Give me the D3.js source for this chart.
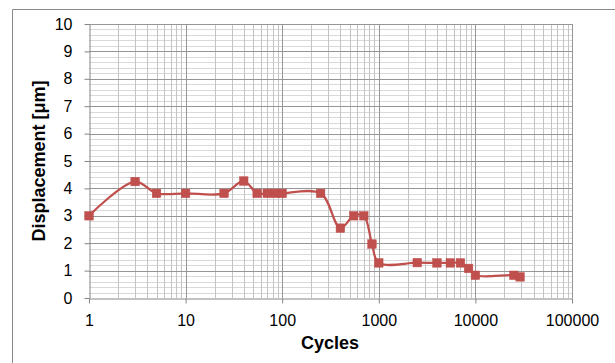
<!DOCTYPE html>
<html><head><meta charset="utf-8">
<script src="https://cdn.jsdelivr.net/npm/d3@7"></script>
<style>body{margin:0;background:#fff;} svg{display:block;font-family:"Liberation Sans",Arial,sans-serif;}</style>
</head><body>
<svg id="c" width="615" height="363"></svg>
<script>
const cycles = [1, 3, 5, 10, 25, 40, 55, 70, 85, 100, 250, 400, 550, 700, 850, 1000, 2500, 4000, 5500, 7000, 8500, 10000, 25000, 29000];
const displacement = [3.0, 4.25, 3.82, 3.82, 3.82, 4.27, 3.82, 3.82, 3.82, 3.82, 3.82, 2.55, 3.0, 3.0, 1.97, 1.28, 1.29, 1.28, 1.28, 1.28, 1.08, 0.83, 0.83, 0.77];
const xTickLabels = ["1", "10", "100", "1000", "10000", "100000"];
const yTickLabels = ["0","1","2","3","4","5","6","7","8","9","10"];
const xTitle = "Cycles";
const yTitle = "Displacement [μm]";

const svg = d3.select("#c");
const L = 89, R = 572, T = 24, B = 298;
const x = d3.scaleLog().domain([1, 100000]).range([L, R]);
const y = d3.scaleLinear().domain([0, 10]).range([B, T]);

// outer border
svg.append("path").attr("d", "M12.5,370 V9.5 H620").attr("fill","none").attr("stroke","#898989").attr("stroke-width",1);

const g = svg.append("g");
// minor horizontal grid
const yMinor = d3.range(0, 10.001, 0.2).filter(v => Math.abs(v - Math.round(v)) > 1e-6);
g.selectAll(".hm").data(yMinor).join("line")
  .attr("x1", L).attr("x2", R).attr("y1", d => Math.round(y(d)) + 0.5).attr("y2", d => Math.round(y(d)) + 0.5)
  .attr("stroke", "#d9d9d9").attr("stroke-width", 1);
// minor vertical grid
const xMinor = [];
for (let e = 0; e < 5; e++) for (let m = 2; m <= 9; m++) xMinor.push(m * Math.pow(10, e));
g.selectAll(".vm").data(xMinor).join("line")
  .attr("y1", T).attr("y2", B).attr("x1", d => Math.round(x(d)) + 0.5).attr("x2", d => Math.round(x(d)) + 0.5)
  .attr("stroke", "#c4c4c4").attr("stroke-width", 1);
// major horizontal grid
g.selectAll(".hM").data(d3.range(1, 11)).join("line")
  .attr("x1", L).attr("x2", R).attr("y1", d => Math.round(y(d)) + 0.5).attr("y2", d => Math.round(y(d)) + 0.5)
  .attr("stroke", "#969696").attr("stroke-width", 1);
// major vertical grid
const xMajor = [1, 10, 100, 1000, 10000, 100000];
g.selectAll(".vM").data(xMajor.slice(1)).join("line")
  .attr("y1", T).attr("y2", B).attr("x1", d => Math.round(x(d)) + 0.5).attr("x2", d => Math.round(x(d)) + 0.5)
  .attr("stroke", "#969696").attr("stroke-width", 1);

// axes
const xAxis = d3.axisBottom(x).tickValues(xMajor).tickFormat((d, i) => xTickLabels[i]).tickSize(5).tickSizeOuter(0);
const xa = svg.append("g").attr("transform", `translate(0,${B + 0.5})`).call(xAxis);
xa.select(".domain").attr("stroke", "#868686");
xa.selectAll(".tick line").attr("stroke", "#868686");
xa.selectAll(".tick text").attr("font-size", "16px").attr("fill", "#000").attr("dy", 0).attr("y", 27.5);

const yAxis = d3.axisLeft(y).tickValues(d3.range(0, 11)).tickFormat((d, i) => yTickLabels[i]).tickSize(5).tickSizeOuter(0);
const ya = svg.append("g").attr("transform", `translate(${L + 0.5},0)`).call(yAxis);
ya.select(".domain").attr("stroke", "#868686");
ya.selectAll(".tick line").attr("stroke", "#868686");
ya.selectAll(".tick text").attr("font-size", "16px").attr("fill", "#000").attr("x", -17);

// line
const pts = cycles.map((c, i) => [x(c), y(displacement[i])]);
svg.append("path").attr("d", d3.line().curve(d3.curveCatmullRom.alpha(0.5))(pts))
  .attr("fill", "none").attr("stroke", "#c0504d").attr("stroke-width", 2.25);
svg.selectAll(".mk").data(pts).join("rect")
  .attr("x", d => d[0] - 4.25).attr("y", d => d[1] - 4.25).attr("width", 8.5).attr("height", 8.5)
  .attr("fill", "#c0504d").attr("stroke", "#be4b48").attr("stroke-width", 0.5);

// titles
svg.append("text").attr("x", 330).attr("y", 349).attr("text-anchor", "middle")
  .attr("font-size", "18px").attr("font-weight", "bold").text(xTitle);
svg.append("text").attr("transform", "translate(45,161) rotate(-90)").attr("text-anchor", "middle")
  .attr("font-size", "18px").attr("font-weight", "bold").text(yTitle);
</script>
</body></html>
